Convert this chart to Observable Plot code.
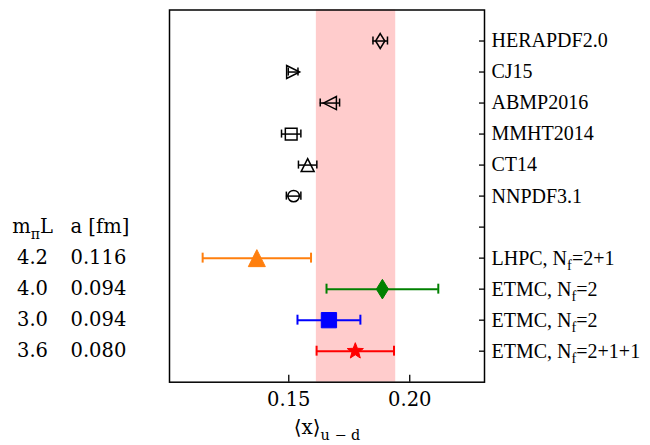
<!DOCTYPE html>
<html>
<head>
<meta charset="utf-8">
<script src="https://cdn.jsdelivr.net/npm/d3@7"></script>
<script src="https://cdn.jsdelivr.net/npm/@observablehq/plot@0.6"></script>
<style>
  body { margin: 0; background: #fff; }
</style>
</head>
<body>
<div id="chart"></div>
<script>
// Row labels from top to bottom; the empty row carries the lattice table header.
const rowLabels = [
  "HERAPDF2.0", "CJ15", "ABMP2016", "MMHT2014", "CT14", "NNPDF3.1", "",
  "LHPC, N_{f}=2+1", "ETMC, N_{f}=2", "ETMC, N_{f}=2", "ETMC, N_{f}=2+1+1"
];

// Global PDF fits of <x>_{u-d}
const pdfNames  = ["HERAPDF2.0", "CJ15", "ABMP2016", "MMHT2014", "CT14", "NNPDF3.1"];
const pdfValues = [0.1878, 0.1518, 0.1670, 0.1510, 0.1578, 0.1520];
const pdfErrors = [0.0030, 0.0020, 0.0040, 0.0040, 0.0038, 0.0030];

// Lattice QCD results
const latticeNames   = ["LHPC, N_{f}=2+1", "ETMC, N_{f}=2", "ETMC, N_{f}=2", "ETMC, N_{f}=2+1+1"];
const latticeValues  = [0.1368, 0.1887, 0.1666, 0.1775];
const latticeErrors  = [0.0224, 0.0231, 0.0130, 0.0160];
const latticeMpiL    = ["4.2", "4.0", "3.0", "3.6"];
const latticeSpacing = ["0.116", "0.094", "0.094", "0.080"];
const tableHeader    = ["m_{π}L", "a [fm]"];

// Phenomenological band
const bandRange = [0.1614, 0.1942];

// ---- marker shapes (Plot passes size = pi r^2) ----
const shape = fn => ({ draw(ctx, size) { fn(ctx, Math.sqrt(size / Math.PI)); } });
const poly = (ctx, pts) => {
  ctx.moveTo(pts[0][0], pts[0][1]);
  for (const p of pts.slice(1)) ctx.lineTo(p[0], p[1]);
  ctx.closePath();
};
const symbols = {
  triangleUp:    shape((c, r) => poly(c, [[0, -r], [r, r], [-r, r]])),
  triangleRight: shape((c, r) => poly(c, [[r, 0], [-r, -r], [-r, r]])),
  triangleLeft:  shape((c, r) => poly(c, [[-r, 0], [r, -r], [r, r]])),
  square:        shape((c, r) => { const h = 0.9 * r; c.rect(-h, -h, 2 * h, 2 * h); }),
  circle:        shape((c, r) => { const h = 0.88 * r; c.moveTo(h, 0); c.arc(0, 0, h, 0, 2 * Math.PI); }),
  thinDiamond:   shape((c, r) => { const h = 1.15 * r, w = 0.62 * h; poly(c, [[0, -h], [w, 0], [0, h], [-w, 0]]); }),
  star:          shape((c, r) => {
    const pts = [];
    for (let i = 0; i < 10; i++) {
      const a = -Math.PI / 2 + i * Math.PI / 5, rr = i % 2 ? 0.42 * r : r;
      pts.push([rr * Math.cos(a), rr * Math.sin(a)]);
    }
    poly(c, pts);
  })
};

// Marker style per series
const pdfMarkers = ["thinDiamond", "triangleRight", "triangleLeft", "square", "triangleUp", "circle"];
const latticeStyle = [
  { symbol: "triangleUp",  color: "#ff7f0e" },
  { symbol: "thinDiamond", color: "#008000" },
  { symbol: "square",      color: "#0000ff" },
  { symbol: "star",        color: "#ff0000" }
];

// ---- tidy rows ----
const pdfRows = pdfNames.map((name, i) => ({
  name, row: i, value: pdfValues[i], lo: pdfValues[i] - pdfErrors[i], hi: pdfValues[i] + pdfErrors[i],
  symbol: symbols[pdfMarkers[i]]
}));
const latticeOffset = pdfNames.length + 1;
const headerRow = pdfNames.length;
const latticeRows = latticeNames.map((name, i) => ({
  name, row: latticeOffset + i, value: latticeValues[i],
  lo: latticeValues[i] - latticeErrors[i], hi: latticeValues[i] + latticeErrors[i],
  mpiL: latticeMpiL[i], a: latticeSpacing[i],
  symbol: symbols[latticeStyle[i].symbol], color: latticeStyle[i].color
}));

const LABEL_FONT = "Liberation Serif";
const NUM_FONT = "DejaVu Serif";
const rowTicks = d3.range(rowLabels.length);
const xTicks = [0.15, 0.20];

const chart = Plot.plot({
  width: 650,
  height: 445,
  marginLeft: 169,
  marginRight: 166,
  marginTop: 9.5,
  marginBottom: 63.3,
  style: { fontFamily: NUM_FONT, fontSize: "19px", background: "white", color: "black" },
  x: { domain: [0.1007, 0.2309] },
  y: { domain: [-1, 11], reverse: true },
  marks: [
    // shaded band
    Plot.rect([{ lo: bandRange[0], hi: bandRange[1] }], { x1: "lo", x2: "hi", fill: "#ffcccc" }),

    // inward ticks (labels drawn separately)
    Plot.axisX(xTicks, { anchor: "bottom", tickSize: 7, dy: -7, tickFormat: () => "", label: null, stroke: "black", strokeWidth: 1.3 }),
    Plot.axisY(rowTicks, { anchor: "right", tickSize: 6, dx: -6, tickFormat: () => "", label: null, stroke: "black", strokeWidth: 1.3 }),

    // tick labels
    Plot.axisX(xTicks, { anchor: "bottom", tickSize: 0, tickPadding: 9.5, tickFormat: d3.format(".2f"), label: null,
      fontFamily: NUM_FONT, fontSize: 19.5, fill: "black" }),
    Plot.axisY(rowTicks, { anchor: "right", tickSize: 0, tickPadding: 7, tickFormat: i => rowLabels[i], label: null,
      fontFamily: LABEL_FONT, fontSize: 20, fill: "black" }),

    // PDF error bars and markers
    Plot.ruleY(pdfRows, { y: "row", x1: "lo", x2: "hi", stroke: "black", strokeWidth: 1.5 }),
    Plot.ruleX(pdfRows, { x: "lo", y1: d => d.row - 0.13, y2: d => d.row + 0.13, stroke: "black", strokeWidth: 1.5 }),
    Plot.ruleX(pdfRows, { x: "hi", y1: d => d.row - 0.13, y2: d => d.row + 0.13, stroke: "black", strokeWidth: 1.5 }),
    Plot.dot(pdfRows, { x: "value", y: "row", symbol: "symbol", r: 6.5, stroke: "black", strokeWidth: 1.5, fill: "none" }),

    // lattice error bars and markers
    Plot.ruleY(latticeRows, { y: "row", x1: "lo", x2: "hi", stroke: "color", strokeWidth: 2 }),
    Plot.ruleX(latticeRows, { x: "lo", y1: d => d.row - 0.16, y2: d => d.row + 0.16, stroke: "color", strokeWidth: 2 }),
    Plot.ruleX(latticeRows, { x: "hi", y1: d => d.row - 0.16, y2: d => d.row + 0.16, stroke: "color", strokeWidth: 2 }),
    Plot.dot(latticeRows, { x: "value", y: "row", symbol: "symbol", r: 8.5, fill: "color", stroke: "color", strokeWidth: 1 }),

    Plot.frame({ stroke: "black", strokeWidth: 1.5 }),

    // lattice parameter table left of the frame
    Plot.text([tableHeader[0]], { text: d => d, y: () => headerRow, frameAnchor: "left", dx: -137, textAnchor: "middle",
      fontFamily: NUM_FONT, fontSize: 19.5, fill: "black" }),
    Plot.text([tableHeader[1]], { text: d => d, y: () => headerRow, frameAnchor: "left", dx: -99, textAnchor: "start",
      fontFamily: NUM_FONT, fontSize: 19.5, fill: "black" }),
    Plot.text(latticeRows, { y: "row", text: "mpiL", frameAnchor: "left", dx: -137, textAnchor: "middle",
      fontFamily: NUM_FONT, fontSize: 19.5, fill: "black" }),
    Plot.text(latticeRows, { y: "row", text: "a", frameAnchor: "left", dx: -99, textAnchor: "start",
      fontFamily: NUM_FONT, fontSize: 19.5, fill: "black" }),

    // x-axis title
    Plot.text(["⟨x⟩_{u − d}"], { text: d => d, frameAnchor: "bottom", dy: 52, fontFamily: NUM_FONT, fontSize: 20, fill: "black" })
  ]
});

// Turn "_{...}" into lowered, smaller tspans
function applySubscripts(svg) {
  for (const t of svg.querySelectorAll("text")) {
    if (t.children.length || !t.textContent.includes("_{")) continue;
    const parts = t.textContent.split(/_\{([^}]*)\}/);
    t.textContent = "";
    let lowered = false;
    parts.forEach((p, k) => {
      if (!p) return;
      const span = document.createElementNS("http://www.w3.org/2000/svg", "tspan");
      span.textContent = p;
      if (k % 2 === 1) {
        span.style.fontSize = "0.72em";
        span.setAttribute("dy", "0.4em");
        lowered = true;
      } else if (lowered) {
        span.setAttribute("dy", "-0.288em");
        lowered = false;
      }
      t.appendChild(span);
    });
  }
}
applySubscripts(chart);

document.getElementById("chart").appendChild(chart);
</script>
</body>
</html>
